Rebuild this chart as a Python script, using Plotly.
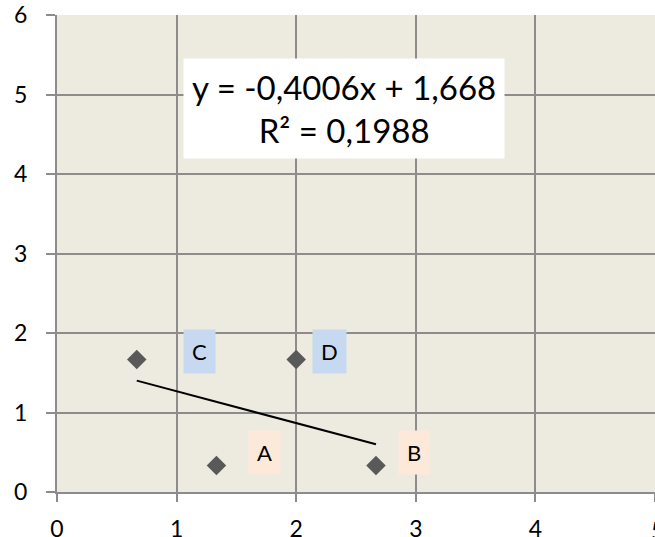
import plotly.graph_objects as go

# data
x_vals = [1.333, 2.667, 0.667, 2.0]
y_vals = [0.333, 0.333, 1.667, 1.667]
point_labels = ["A", "B", "C", "D"]
label_groups = ["low", "low", "high", "high"]
trend_x = [0.667, 2.667]
slope = -0.4006
intercept = 1.668
r_squared = 0.1988
x_ticks = [0, 1, 2, 3, 4, 5]
y_ticks = [0, 1, 2, 3, 4, 5, 6]

# styles
label_shift_x = [48, 38, 63, 33]
label_shift_y = [13, 13, 8, 8]
label_bg = {"low": "#FDE9D9", "high": "#C6D9F1"}
grid_color = "#8C8C8C"
font_family = "Lato, 'Open Sans', sans-serif"
tick_size = 23

trend_y = [slope * v + intercept for v in trend_x]

fig = go.Figure()
fig.add_trace(go.Scatter(
    x=trend_x, y=trend_y, mode="lines",
    line=dict(color="black", width=2), hoverinfo="skip", showlegend=False,
))
fig.add_trace(go.Scatter(
    x=x_vals, y=y_vals, mode="markers",
    marker=dict(symbol="diamond", size=15, color="#595959"),
    showlegend=False,
))

for xv, yv, lab, grp, sx, sy in zip(x_vals, y_vals, point_labels, label_groups,
                                     label_shift_x, label_shift_y):
    fig.add_annotation(
        x=xv, y=yv, xref="x", yref="y", text=lab, showarrow=False,
        xshift=sx, yshift=sy, bgcolor=label_bg[grp], borderpad=8,
        font=dict(family=font_family, size=22, color="black"),
    )

eq_text = (f"y = {slope:.4f}x + {intercept:.3f}".replace(".", ",")
           + "<br>" + f"R² = {r_squared:.4f}".replace(".", ","))
fig.add_annotation(
    x=2.396, y=4.82, xref="x", yref="y", text=eq_text, showarrow=False,
    bgcolor="white", borderpad=8, align="center",
    font=dict(family=font_family, size=33, color="black"),
)

# last x tick label (partly beyond the right edge, as in the reference)
fig.add_annotation(
    x=1 + 2 / 598, y=0, xref="paper", yref="paper", text=str(x_ticks[-1]),
    showarrow=False, xanchor="center", yanchor="top", yshift=-22,
    font=dict(family=font_family, size=tick_size, color="black"),
)

fig.update_layout(
    template="none",
    width=655, height=537,
    margin=dict(l=57, r=0, t=15, b=45),
    paper_bgcolor="white", plot_bgcolor="#EDEAE0",
    font=dict(family=font_family, size=tick_size, color="black"),
)
fig.update_xaxes(
    range=[0, 5], tickvals=x_ticks, showgrid=True, gridcolor=grid_color, gridwidth=2,
    zeroline=False, showline=True, linecolor=grid_color, linewidth=2,
    ticks="outside", ticklen=8, tickwidth=2, tickcolor=grid_color,
    ticklabelstandoff=7, automargin=False,
)
fig.update_yaxes(
    range=[0, 6], tickvals=y_ticks, showgrid=True, gridcolor=grid_color, gridwidth=2,
    zeroline=False, showline=True, linecolor=grid_color, linewidth=2,
    ticks="outside", ticklen=9, tickwidth=2, tickcolor=grid_color,
    ticklabelstandoff=14, automargin=False,
)

fig.write_html(
    "out.html",
    config={"displayModeBar": False},
    post_script="document.body.style.margin='0px';document.body.style.overflow='hidden';",
)
